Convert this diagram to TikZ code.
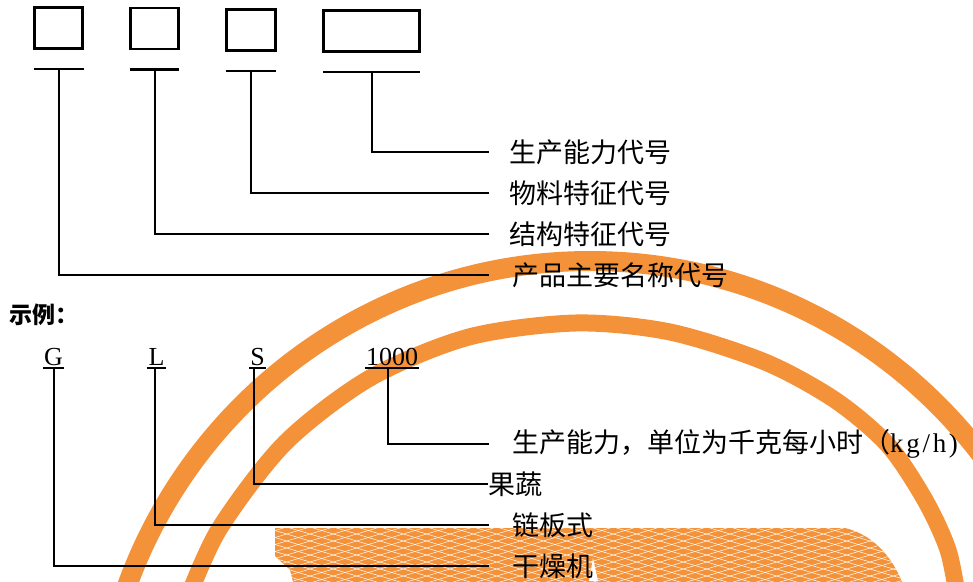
\documentclass[tikz,border=0pt]{standalone}
\usepackage{fontspec}
\setmainfont{Liberation Serif}
\newfontfamily\cjk{Noto Sans CJK SC}
\newfontfamily\unitfont[LetterSpace=10]{Liberation Serif}
\usetikzlibrary{positioning}
\definecolor{ringorange}{RGB}{244,146,58}

\begin{document}
\begin{tikzpicture}[
        x=1pt, y=-1pt,
        every node/.style={inner sep=0pt},
        ring/.style={draw=ringorange, line cap=butt},
        ]
        \tikzstyle{slot} = [draw, line width=2.7pt, minimum height=41pt];
        \tikzstyle{bar} = [minimum height=0pt, outer sep=0pt];
        \tikzstyle{lead} = [line width=2pt];
        \tikzstyle{code} = [anchor=base, inner xsep=1pt, inner ysep=3pt, font={\fontsize{26}{26}\selectfont}];
        \tikzstyle{desc} = [anchor=west, inner xsep=20pt, font={\fontsize{27}{27}\selectfont\cjk}];
        \useasboundingbox (0,0) rectangle (973,581);

        \draw[ring, line width=20pt] (590,753) circle (492);
        \draw[ring, line width=17pt] plot[smooth] coordinates {(187,600) (219.5,528.5) (285,443) (370,378) (469,337) (575.5,323) (670,332) (765,362) (835,400) (888,445) (925,500) (948,550) (958,600)};
        \begin{scope}
            \clip (275,528) -- (845,528) .. controls (875,535) and (895,560) .. (905,590) -- (295,590) -- (290,570) -- (275,556) -- cycle;
            \fill[ringorange] (270,520) rectangle (910,590);
            \foreach \c in {330,337,...,600}
                \draw[white, line width=0.5pt] (260,\c) -- (920,\c+198);
            \foreach \c in {528,535,...,800}
                \draw[white, line width=0.5pt] (260,\c) -- (920,\c-198);
        \end{scope}
        \fill[white] (589,581) -- (593,558) -- (598,581) -- cycle;

        \node[slot, minimum width=48pt] (b1) at (58.5,28) {};
        \node[slot, minimum width=48pt] (b2) at (154.5,28.5) {};
        \node[slot, minimum width=49pt] (b3) at (251,30) {};
        \node[slot, minimum width=96pt] (b4) at (371.5,31) {};
        \node[bar, minimum width=50pt, below=19pt of b1] (u1) {};
        \node[bar, minimum width=49pt, below=19pt of b2] (u2) {};
        \node[bar, minimum width=50pt, below=19pt of b3] (u3) {};
        \node[bar, minimum width=97pt, below=19pt of b4] (u4) {};
        \foreach \u in {u1,u2,u3,u4}
            \draw[line width=2.7pt] (\u.west) -- (\u.east);

        \node[desc] (t4) at (489,152) {生产能力代号};
        \node[desc] (t3) at (489,193) {物料特征代号};
        \node[desc] (t2) at (489,234) {结构特征代号};
        \node[desc, inner xsep=23pt] (t1) at (489,275) {产品主要名称代号};
        \draw[lead] (u4.center) |- (t4.west);
        \draw[lead] (u3.center) |- (t3.west);
        \draw[lead] (u2.center) |- (t2.west);
        \draw[lead] (u1.center) |- (t1.west);

        \node[anchor=west, font={\fontsize{23}{23}\selectfont\cjk\bfseries}] (eg) at (9,315) {示例：};
        \node[code] (g) at (53.5,365) {G};
        \node[code] (l) at (156.5,365) {L};
        \node[code] (s) at (257.5,365) {S};
        \node[code] (n) at (392,365) {1000};
        \foreach \c in {g,l,s,n}
            \draw[line width=2pt] (\c.south west) -- (\c.south east);

        \node[desc, inner xsep=23pt] (d1) at (489,444) {生产能力，单位为千克每小时（{\unitfont kg/h)}};
        \node[desc, inner xsep=0.5pt] (d2) at (488,484) {果蔬};
        \node[desc, inner xsep=23pt] (d3) at (489,525) {链板式};
        \node[desc, inner xsep=23pt] (d4) at (489,566) {干燥机};
        \draw[lead] ([xshift=-4pt]n.south) |- (d1.west);
        \draw[lead] ([xshift=-4pt]s.south) |- (d2.west);
        \draw[lead] ([xshift=-2pt]l.south) |- (d3.west);
        \draw[lead] (g.south) |- (d4.west);
\end{tikzpicture}
\end{document}
